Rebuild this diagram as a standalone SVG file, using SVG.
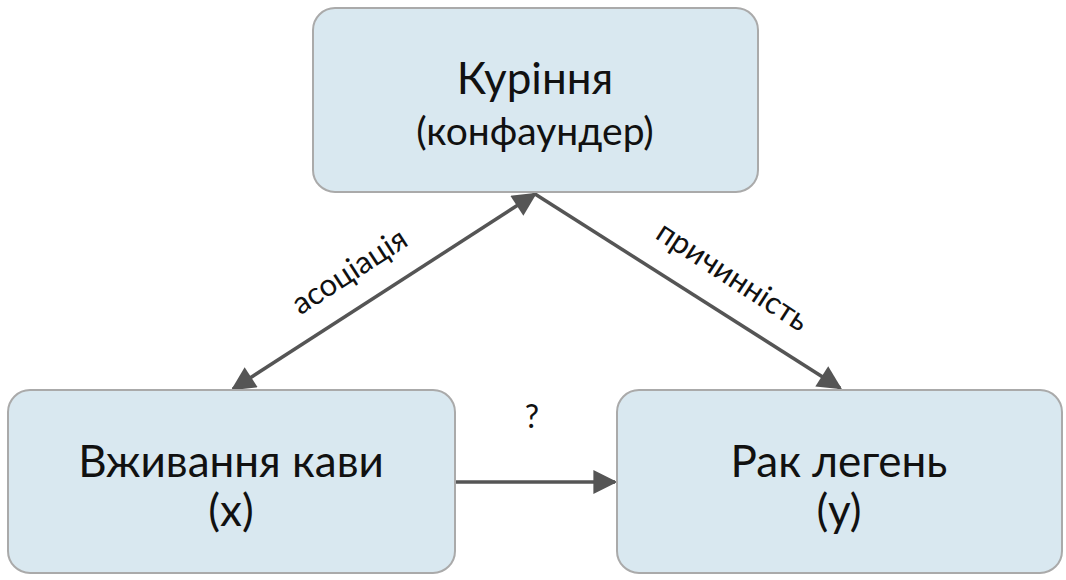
<svg xmlns="http://www.w3.org/2000/svg" width="1066" height="580" viewBox="0 0 1066 580">
<style>
.box{fill:#d9e8f0;stroke:#aaaaaa;stroke-width:2}
.t{font-family:Lato,"Liberation Sans",sans-serif;fill:#111;text-anchor:middle}
.big{font-size:44px}
.sm{font-size:39px}
.lbl{font-size:31px}
.q{font-size:32px}
.c{stroke:#555;stroke-width:3.5;fill:none}
</style>
<defs>
<marker id="b" viewBox="0 0 10 10" refX="9" refY="5" markerWidth="28" markerHeight="24" markerUnits="userSpaceOnUse" orient="auto-start-reverse"><path d="M0,0 L10,5 L0,10 z" fill="#555"/></marker>
</defs>
<rect width="1066" height="580" fill="#fff"/>
<g id="connectors">
<line class="c" x1="233" y1="389" x2="535" y2="194" marker-start="url(#b)" marker-end="url(#b)"/>
<line class="c" x1="535" y1="194" x2="840" y2="388" marker-end="url(#b)"/>
<line class="c" x1="455" y1="482" x2="615" y2="482" marker-end="url(#b)"/>
<text class="t lbl" transform="translate(355,280) rotate(-33)">асоціація</text>
<text class="t lbl" transform="translate(727,285) rotate(33)">причинність</text>
<text class="t q" x="532" y="428">?</text>
</g>
<g id="smoking">
<rect class="box" x="313" y="8" width="445" height="184" rx="22"/>
<text class="t big" x="535" y="94">Куріння</text>
<text class="t sm" x="535" y="145">(конфаундер)</text>
</g>
<g id="coffee">
<rect class="box" x="8" y="390" width="447" height="183" rx="22"/>
<text class="t big" x="231" y="477">Вживання кави</text>
<text class="t big" x="231" y="526">(x)</text>
</g>
<g id="cancer">
<rect class="box" x="617" y="390" width="445" height="183" rx="22"/>
<text class="t big" x="839" y="477">Рак легень</text>
<text class="t big" x="839" y="526">(y)</text>
</g>
</svg>
